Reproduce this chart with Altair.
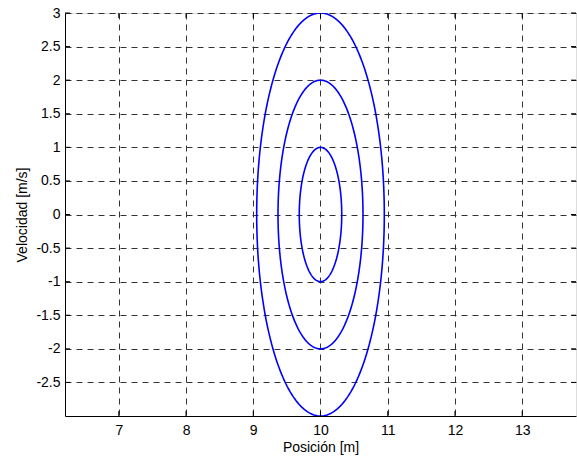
import numpy as np
import pandas as pd
import altair as alt

# Ellipse parameters
center_pos = 10.0
vel_amplitudes = [1.0, 2.0, 3.0]          # m/s
pos_amplitudes = [0.316, 0.632, 0.949]    # m
x_ticks = [7, 8, 9, 10, 11, 12, 13]
y_ticks = [-2.5, -2, -1.5, -1, -0.5, 0, 0.5, 1, 1.5, 2, 2.5, 3]

rows = []
theta = np.linspace(0, 2 * np.pi, 241)
for i, (a, b) in enumerate(zip(pos_amplitudes, vel_amplitudes)):
    for k, t in enumerate(theta):
        rows.append({"ring": i, "k": k,
                     "x": center_pos + a * np.sin(t),
                     "v": b * np.cos(t)})
df = pd.DataFrame(rows)
xt = pd.DataFrame({"x": x_ticks})
yt = pd.DataFrame({"v": y_ticks})

font = "Liberation Sans"
grid_dash = [6, 5]
fs = 14
W, H, TL = 511, 403, 5

xscale = alt.Scale(domain=[6.2, 13.8], nice=False, zero=False)
yscale = alt.Scale(domain=[-3, 3], nice=False, zero=False)

xaxis = alt.Axis(values=x_ticks, title="Posición [m]", grid=True,
                 labelExpr="toString(datum.value)", labelOverlap=False,
                 gridDash=grid_dash, gridColor="#333333", gridOpacity=1,
                 ticks=False, labelPadding=7, domainColor="black",
                 labelFont=font, titleFont=font, labelFontSize=fs,
                 titleFontSize=fs, titleFontWeight="normal",
                 labelColor="black", titleColor="black", titlePadding=3)
yaxis = alt.Axis(values=y_ticks, title="Velocidad [m/s]", grid=True,
                 labelExpr="toString(datum.value)", labelOverlap=False,
                 gridDash=grid_dash, gridColor="#333333", gridOpacity=1,
                 ticks=False, labelPadding=5, domainColor="black",
                 labelFont=font, titleFont=font, labelFontSize=fs,
                 titleFontSize=fs, titleFontWeight="normal",
                 labelColor="black", titleColor="black", titlePadding=6)

lines = alt.Chart(df).mark_line(color="#0000ff", strokeWidth=1.6, clip=True).encode(
    x=alt.X("x:Q", scale=xscale, axis=xaxis),
    y=alt.Y("v:Q", scale=yscale, axis=yaxis),
    detail="ring:N",
    order="k:Q",
)

tick_style = dict(color="black", strokeWidth=1)
xt_bottom = alt.Chart(xt).mark_rule(**tick_style).encode(
    x=alt.X("x:Q", scale=xscale, axis=xaxis), y=alt.value(H), y2=alt.value(H - TL))
xt_top = alt.Chart(xt).mark_rule(**tick_style).encode(
    x=alt.X("x:Q", scale=xscale, axis=xaxis), y=alt.value(0), y2=alt.value(TL))
yt_left = alt.Chart(yt).mark_rule(**tick_style).encode(
    y=alt.Y("v:Q", scale=yscale, axis=yaxis), x=alt.value(0), x2=alt.value(TL))
yt_right = alt.Chart(yt).mark_rule(**tick_style).encode(
    y=alt.Y("v:Q", scale=yscale, axis=yaxis), x=alt.value(W), x2=alt.value(W - TL))

chart = alt.layer(lines, xt_bottom, xt_top, yt_left, yt_right).properties(
    width=W, height=H,
    autosize=alt.AutoSizeParams(type="none"),
    padding={"left": 65, "top": 13, "right": 1, "bottom": 43},
).configure_view(stroke="black", strokeWidth=1.2).configure(background="white")

chart.save("out.html", embed_options={"renderer": "svg", "actions": False})
